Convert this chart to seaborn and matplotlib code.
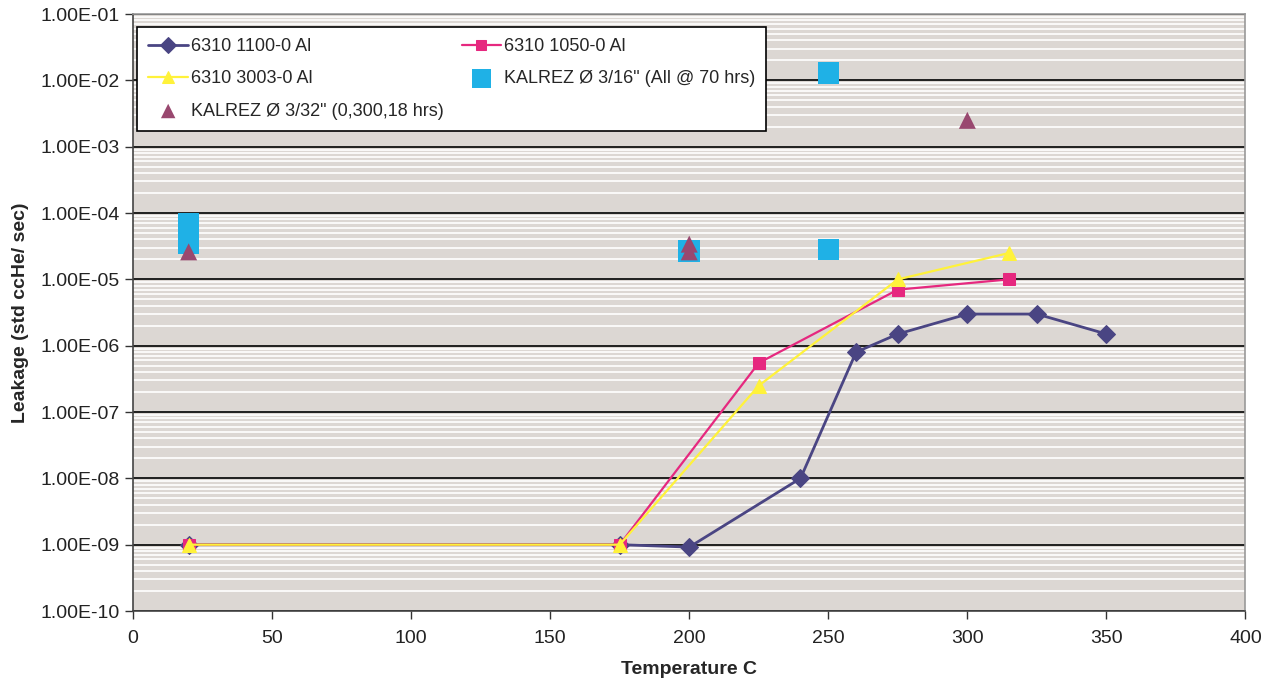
import pandas as pd
import matplotlib.pyplot as plt
import seaborn as sns
from matplotlib.ticker import LogLocator, FuncFormatter, NullFormatter, MultipleLocator

# series values
temp_1100 = [20, 175, 200, 240, 260, 275, 300, 325, 350]
leak_1100 = [1e-9, 1e-9, 9.2e-10, 1e-8, 8e-7, 1.5e-6, 3e-6, 3e-6, 1.5e-6]
temp_1050 = [20, 175, 225, 275, 315]
leak_1050 = [1e-9, 1e-9, 5.5e-7, 7e-6, 1e-5]
temp_3003 = [20, 175, 225, 275, 315]
leak_3003 = [1e-9, 1e-9, 2.5e-7, 1e-5, 2.5e-5]
temp_k316 = [20, 20, 20, 200, 250, 250]
leak_k316 = [7e-5, 5e-5, 3.5e-5, 2.7e-5, 2.8e-5, 1.3e-2]
temp_k332 = [20, 200, 200, 300]
leak_k332 = [2.6e-5, 3.4e-5, 2.6e-5, 2.5e-3]

labels = ['6310 1100-0 Al', '6310 1050-0 Al', '6310 3003-0 Al',
          'KALREZ Ø 3/16" (All @ 70 hrs)', 'KALREZ Ø 3/32" (0,300,18 hrs)']

sns.set_style('ticks')
plt.rcParams['font.family'] = ['Liberation Sans', 'DejaVu Sans']

fig = plt.figure(figsize=(12.67, 6.83), dpi=100)
ax = fig.add_axes([0.105, 0.1054, 0.878, 0.874])
ax.set_facecolor('#dcd7d3')

lines = [
    (temp_1100, leak_1100, '#4a4583', 'D', 9, 2.0, labels[0]),
    (temp_1050, leak_1050, '#e6287f', 's', 9, 1.6, labels[1]),
    (temp_3003, leak_3003, '#fff23a', '^', 10, 1.6, labels[2]),
]
for x, y, c, m, ms, lw, lab in lines:
    df = pd.DataFrame({'x': x, 'y': y})
    sns.lineplot(data=df, x='x', y='y', ax=ax, color=c, marker=m, markersize=ms,
                 markeredgecolor=c, linewidth=lw, sort=False, estimator=None,
                 label=lab, zorder=3)

df316 = pd.DataFrame({'x': temp_k316, 'y': leak_k316})
sns.scatterplot(data=df316, x='x', y='y', ax=ax, color='#1fb1e6', marker='s', s=240,
                edgecolor='none', label=labels[3], zorder=4)
df332 = pd.DataFrame({'x': temp_k332, 'y': leak_k332})
sns.scatterplot(data=df332, x='x', y='y', ax=ax, color='#99486f', marker='^', s=150,
                edgecolor='none', label=labels[4], zorder=5)

ax.set_yscale('log')
ax.set_ylim(1e-10, 1e-1)
ax.set_xlim(0, 400)
ax.xaxis.set_major_locator(MultipleLocator(50))
ax.yaxis.set_major_locator(LogLocator(base=10, numticks=20))
ax.yaxis.set_minor_locator(LogLocator(base=10, subs=range(2, 10), numticks=100))
ax.yaxis.set_major_formatter(FuncFormatter(lambda v, p: f'{v:.2E}'))
ax.yaxis.set_minor_formatter(NullFormatter())
ax.tick_params(axis='y', which='minor', length=0)
ax.tick_params(axis='both', which='major', length=6, width=1, color='#333333',
               labelsize=14, labelcolor='#222222', direction='out')
ax.tick_params(axis='x', pad=8)

ax.grid(which='major', axis='y', color='#111111', linewidth=1.3, zorder=1)
ax.grid(which='minor', axis='y', color='white', linewidth=1.2, zorder=1)
ax.set_axisbelow(True)
for side in ['left', 'bottom']:
    ax.spines[side].set_color('#444444')
    ax.spines[side].set_linewidth(1.2)
for side in ['top', 'right']:
    ax.spines[side].set_color('#999999')
    ax.spines[side].set_linewidth(1.2)

ax.set_xlabel('Temperature C', fontsize=14, fontweight='bold', labelpad=10)
ax.set_ylabel('Leakage (std ccHe/ sec)', fontsize=14, fontweight='bold', labelpad=8)

h, l = ax.get_legend_handles_labels()
order = [l.index(labels[i]) for i in [0, 2, 4, 1, 3]]
leg = ax.legend([h[i] for i in order], [l[i] for i in order], ncol=2,
                loc='upper left', bbox_to_anchor=(0.004, 0.978),
                borderaxespad=0, fancybox=False, framealpha=1,
                edgecolor='black', fontsize=13, handlelength=2.2,
                handletextpad=0.15, labelspacing=0.85, borderpad=0.6,
                columnspacing=1.0, markerscale=0.85)
leg.get_frame().set_linewidth(1.2)
leg.set_zorder(10)

fig.savefig('out.png', dpi=100)
